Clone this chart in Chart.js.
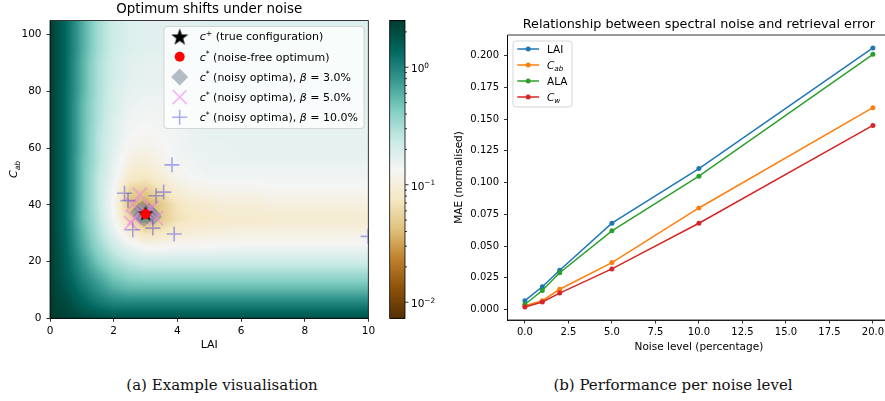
<!DOCTYPE html>
<html>
<head>
<meta charset="utf-8">
<script src="https://cdn.jsdelivr.net/npm/chart.js@4/dist/chart.umd.min.js"></script>
<style>
  body { margin: 0; background: #fff; overflow: hidden; }
  #wrap { position: relative; width: 885px; height: 401px; overflow: hidden; }
  .box { position: absolute; top: 0; height: 360px; }
  .cap { position: absolute; top: 376px; width: 300px; font-family: "DejaVu Serif"; font-size: 15px;
         color: #111; text-align: center; white-space: nowrap; line-height: 18px; }
</style>
</head>
<body>
<div id="wrap">
  <div class="box" style="left:0;width:380px"><canvas id="heat" width="380" height="360"></canvas></div>
  <div class="box" style="left:380px;width:60px"><canvas id="cbar" width="60" height="360"></canvas></div>
  <div class="box" style="left:440px;width:460px"><canvas id="lines" width="460" height="360"></canvas></div>
  <div class="cap" style="left:72px">(a) Example visualisation</div>
  <div class="cap" style="left:523px">(b) Performance per noise level</div>
</div>
<script>
// ---- panel (b): MAE per noise level ----
const noiseLevels = [0, 1, 2, 5, 10, 20];
const laiMae = [0.007, 0.018, 0.031, 0.068, 0.111, 0.206];
const cabMae = [0.003, 0.007, 0.016, 0.037, 0.080, 0.159];
const alaMae = [0.004, 0.015, 0.029, 0.062, 0.105, 0.201];
const cwMae  = [0.002, 0.006, 0.013, 0.032, 0.068, 0.145];

// ---- panel (a): optima ----
const trueLai = [3.0], trueCab = [37.0];
const optLai = [3.0], optCab = [36.8];
const noisy3Lai = [2.78, 2.9, 3.05, 3.2, 3.25, 2.95, 3.1, 2.85];
const noisy3Cab = [37.5, 38.5, 36.0, 36.8, 35.8, 35.2, 37.8, 36.0];
const noisy5Lai = [2.82, 2.6, 2.65, 2.54, 3.18, 3.33, 3.0];
const noisy5Cab = [43.6, 40.1, 35.4, 33.6, 38.8, 35.3, 37.5];
const noisy10Lai = [3.83, 2.34, 2.45, 3.33, 3.57, 2.6, 3.23, 3.9, 9.99];
const noisy10Cab = [54.1, 44.1, 41.5, 43.2, 44.5, 31.2, 31.8, 29.7, 28.9];

// misfit surface (rows: Cab from 105 down to 0, cols: LAI 0..10)
const laiGrid = [0, 0.5, 1, 1.5, 2, 2.5, 3, 3.5, 4, 4.5, 5, 5.5, 6, 6.5, 7, 7.5, 8, 8.5, 9, 9.5, 10];
const cabGrid = [105, 100, 95, 90, 85, 80, 75, 70, 65, 60, 55, 50, 45, 40, 35, 30, 25, 20, 15, 10, 5, 0];
const misfitGrid = [
  [2.5, 1.35, 0.64, 0.33, 0.22, 0.185, 0.174, 0.174, 0.174, 0.174, 0.185, 0.185, 0.185, 0.185, 0.185, 0.185, 0.185, 0.185, 0.185, 0.185, 0.185],
  [2.5, 1.35, 0.64, 0.33, 0.22, 0.185, 0.174, 0.174, 0.174, 0.174, 0.185, 0.185, 0.185, 0.185, 0.185, 0.185, 0.185, 0.185, 0.185, 0.185, 0.185],
  [2.5, 1.35, 0.64, 0.33, 0.22, 0.185, 0.174, 0.174, 0.174, 0.174, 0.185, 0.185, 0.185, 0.185, 0.185, 0.185, 0.185, 0.185, 0.185, 0.185, 0.185],
  [2.5, 1.35, 0.6, 0.31, 0.21, 0.174, 0.164, 0.164, 0.164, 0.174, 0.174, 0.174, 0.185, 0.185, 0.185, 0.185, 0.185, 0.185, 0.185, 0.185, 0.185],
  [2.5, 1.35, 0.6, 0.31, 0.21, 0.174, 0.164, 0.164, 0.164, 0.174, 0.174, 0.174, 0.185, 0.185, 0.185, 0.185, 0.185, 0.185, 0.185, 0.185, 0.185],
  [2.5, 1.3, 0.6, 0.31, 0.2, 0.164, 0.155, 0.155, 0.164, 0.164, 0.174, 0.174, 0.174, 0.174, 0.174, 0.174, 0.174, 0.174, 0.174, 0.174, 0.174],
  [2.5, 1.3, 0.56, 0.3, 0.2, 0.155, 0.146, 0.146, 0.155, 0.164, 0.164, 0.164, 0.174, 0.174, 0.174, 0.174, 0.174, 0.174, 0.174, 0.174, 0.174],
  [2.5, 1.3, 0.56, 0.3, 0.185, 0.146, 0.138, 0.146, 0.155, 0.164, 0.164, 0.164, 0.164, 0.164, 0.164, 0.164, 0.164, 0.164, 0.164, 0.164, 0.164],
  [2.5, 1.3, 0.56, 0.28, 0.185, 0.138, 0.13, 0.138, 0.146, 0.155, 0.164, 0.164, 0.164, 0.164, 0.164, 0.164, 0.164, 0.164, 0.164, 0.164, 0.164],
  [2.5, 1.3, 0.56, 0.28, 0.174, 0.125, 0.115, 0.13, 0.146, 0.155, 0.155, 0.155, 0.164, 0.164, 0.164, 0.164, 0.164, 0.164, 0.164, 0.164, 0.164],
  [2.5, 1.3, 0.53, 0.28, 0.164, 0.105, 0.097, 0.115, 0.138, 0.146, 0.155, 0.155, 0.155, 0.155, 0.155, 0.155, 0.155, 0.155, 0.155, 0.155, 0.155],
  [2.5, 1.3, 0.53, 0.26, 0.155, 0.085, 0.077, 0.097, 0.122, 0.138, 0.146, 0.146, 0.146, 0.146, 0.146, 0.146, 0.146, 0.146, 0.146, 0.146, 0.146],
  [2.5, 1.3, 0.53, 0.26, 0.138, 0.055, 0.05, 0.068, 0.097, 0.109, 0.115, 0.122, 0.122, 0.122, 0.13, 0.13, 0.13, 0.13, 0.13, 0.13, 0.13],
  [2.5, 1.3, 0.53, 0.26, 0.13, 0.042, 0.032, 0.048, 0.072, 0.086, 0.091, 0.097, 0.097, 0.097, 0.103, 0.103, 0.103, 0.103, 0.103, 0.103, 0.103],
  [2.5, 1.3, 0.53, 0.28, 0.138, 0.058, 0.036, 0.048, 0.068, 0.077, 0.081, 0.086, 0.086, 0.086, 0.091, 0.091, 0.091, 0.091, 0.091, 0.091, 0.091],
  [2.5, 1.35, 0.6, 0.31, 0.174, 0.097, 0.068, 0.077, 0.091, 0.097, 0.103, 0.103, 0.109, 0.109, 0.109, 0.109, 0.109, 0.109, 0.109, 0.109, 0.109],
  [2.5, 1.4, 0.67, 0.37, 0.23, 0.164, 0.13, 0.13, 0.138, 0.138, 0.138, 0.146, 0.146, 0.146, 0.146, 0.146, 0.146, 0.146, 0.146, 0.146, 0.146],
  [2.5, 1.5, 0.8, 0.47, 0.31, 0.25, 0.22, 0.22, 0.22, 0.22, 0.22, 0.22, 0.22, 0.22, 0.22, 0.22, 0.22, 0.22, 0.22, 0.22, 0.22],
  [2.5, 1.6, 0.96, 0.64, 0.45, 0.37, 0.35, 0.35, 0.35, 0.35, 0.35, 0.35, 0.35, 0.35, 0.35, 0.35, 0.35, 0.35, 0.35, 0.35, 0.35],
  [2.5, 1.8, 1.2, 0.85, 0.64, 0.56, 0.56, 0.56, 0.56, 0.56, 0.56, 0.56, 0.56, 0.56, 0.56, 0.56, 0.56, 0.56, 0.56, 0.56, 0.56],
  [2.5, 2.1, 1.5, 1.2, 1.0, 1.0, 1.0, 1.0, 1.0, 1.0, 1.0, 1.0, 1.0, 1.0, 1.0, 1.0, 1.0, 1.0, 1.0, 1.0, 1.0],
  [2.5, 2.3, 2.1, 1.9, 1.8, 1.8, 1.8, 1.8, 1.8, 1.8, 1.8, 1.8, 1.8, 1.8, 1.8, 1.8, 1.8, 1.8, 1.8, 1.8, 1.8]
];
const cbarMin = 0.0073, cbarMax = 2.5;
const cbarDecades = [0.01, 0.1, 1];

const FONT = '"DejaVu Sans"';
const BRBG = ['#543005', '#8c510a', '#bf812d', '#dfc27d', '#f6e8c3', '#f5f5f5',
              '#c7eae5', '#80cdc1', '#35978f', '#01665e', '#003c30']
  .map(h => [1, 3, 5].map(i => parseInt(h.substr(i, 2), 16)));

function colourFor(v) {
  let t = (Math.log10(v) - Math.log10(cbarMin)) / (Math.log10(cbarMax) - Math.log10(cbarMin));
  t = Math.max(0, Math.min(1, t));
  const s = t * 10, i = Math.min(9, Math.floor(s)), f = s - i;
  const a = BRBG[i], b = BRBG[i + 1];
  return [a[0] + (b[0] - a[0]) * f, a[1] + (b[1] - a[1]) * f, a[2] + (b[2] - a[2]) * f];
}

function bracket(grid, v) {
  // returns [i, frac] with grid[i] -> grid[i+1]
  const n = grid.length;
  for (let i = 0; i < n - 1; i++) {
    const lo = Math.min(grid[i], grid[i + 1]), hi = Math.max(grid[i], grid[i + 1]);
    if (v >= lo && v <= hi) return [i, (v - grid[i]) / (grid[i + 1] - grid[i])];
  }
  if ((grid[0] < grid[n - 1]) === (v < grid[0])) return [0, 0];
  return [n - 2, 1];
}

function sampleMisfit(lai, cab) {
  const [i, fx] = bracket(laiGrid, lai);
  const [j, fy] = bracket(cabGrid, cab);
  const g = (r, c) => Math.log10(misfitGrid[r][c]);
  const top = g(j, i) * (1 - fx) + g(j, i + 1) * fx;
  const bot = g(j + 1, i) * (1 - fx) + g(j + 1, i + 1) * fx;
  return Math.pow(10, top * (1 - fy) + bot * fy);
}

// rich text: parts [{t, it, sup, sub}], y is the vertical middle
function richWidth(ctx, parts, size) {
  let w = 0;
  for (const p of parts) {
    const s = (p.sup || p.sub) ? size * 0.7 : size;
    ctx.font = (p.it ? 'italic ' : '') + s + 'px ' + FONT;
    w += ctx.measureText(p.t).width;
  }
  return w;
}
function drawRich(ctx, parts, x, y, size, align) {
  const w = richWidth(ctx, parts, size);
  let cx = align === 'center' ? x - w / 2 : x;
  const base = y + size * 0.36;
  ctx.textAlign = 'left';
  ctx.textBaseline = 'alphabetic';
  for (const p of parts) {
    const s = (p.sup || p.sub) ? size * 0.7 : size;
    ctx.font = (p.it ? 'italic ' : '') + s + 'px ' + FONT;
    const dy = p.sup ? -size * 0.4 : p.sub ? size * 0.25 : 0;
    ctx.fillText(p.t, cx, base + dy);
    cx += ctx.measureText(p.t).width;
  }
}

function makeStar(size) {
  const c = document.createElement('canvas');
  c.width = c.height = size;
  const g = c.getContext('2d');
  g.fillStyle = '#000';
  g.beginPath();
  const cx = size / 2, cy = size / 2 + size * 0.05, R = size / 2, r = R * 0.4;
  for (let k = 0; k < 10; k++) {
    const ang = -Math.PI / 2 + k * Math.PI / 5;
    const rr = k % 2 ? r : R;
    g.lineTo(cx + rr * Math.cos(ang), cy + rr * Math.sin(ang));
  }
  g.closePath();
  g.fill();
  return c;
}
const starImg = makeStar(16);
const starImgBig = makeStar(18);

const toXY = (xs, ys) => xs.map((v, i) => ({ x: v, y: ys[i] }));

const markerStyles = {
  opt:   { pointStyle: 'circle', radius: 5, fill: 'red', stroke: 'red', width: 0 },
  star:  { pointStyle: starImg, radius: 8, fill: '#000', stroke: '#000', width: 0 },
  n10:   { pointStyle: 'cross', radius: 7.5, fill: 'rgba(0,0,0,0)', stroke: 'rgba(20,20,235,0.35)', width: 1.6 },
  n5:    { pointStyle: 'crossRot', radius: 10, fill: 'rgba(0,0,0,0)', stroke: 'rgba(238,130,238,0.6)', width: 1.6 },
  n3:    { pointStyle: 'rectRot', radius: 8.5, fill: 'rgba(112,128,144,0.52)', stroke: 'rgba(0,0,0,0)', width: 0 }
};

function scatterSet(points, m) {
  return {
    data: points, pointStyle: m.pointStyle, pointRadius: m.radius, pointHoverRadius: m.radius,
    backgroundColor: m.fill, borderColor: m.stroke, borderWidth: m.width, showLine: false
  };
}

function axisCommon(size, extra, ticks) {
  return Object.assign({
    grid: { display: true, drawOnChartArea: false, drawTicks: true, tickLength: 3.5, tickColor: '#000', tickWidth: 0.8 },
    border: { display: true, color: '#000', width: 0.8 },
    ticks: Object.assign({ font: { family: FONT, size: size }, color: '#000', padding: 5, maxRotation: 0,
                           autoSkip: false, includeBounds: false }, ticks)
  }, extra);
}

function drawFrame(ctx, a, sides) {
  ctx.save();
  ctx.strokeStyle = '#000';
  ctx.lineWidth = 0.8;
  ctx.beginPath();
  if (sides.includes('t')) { ctx.moveTo(a.left, a.top); ctx.lineTo(a.right, a.top); }
  if (sides.includes('r')) { ctx.moveTo(a.right, a.top); ctx.lineTo(a.right, a.bottom); }
  if (sides.includes('b')) { ctx.moveTo(a.left, a.bottom); ctx.lineTo(a.right, a.bottom); }
  if (sides.includes('l')) { ctx.moveTo(a.left, a.top); ctx.lineTo(a.left, a.bottom); }
  ctx.stroke();
  ctx.restore();
}

function legendBox(ctx, x, y, w, h) {
  ctx.save();
  ctx.beginPath();
  ctx.roundRect(x, y, w, h, 3);
  ctx.fillStyle = 'rgba(255,255,255,0.8)';
  ctx.fill();
  ctx.strokeStyle = 'rgba(204,204,204,0.8)';
  ctx.lineWidth = 1;
  ctx.stroke();
  ctx.restore();
}

// ---------- left: misfit map ----------
const heatPlugin = {
  id: 'heatmap',
  beforeDatasetsDraw(chart) {
    const { ctx, chartArea: a, scales: { x, y } } = chart;
    const w = Math.ceil(a.right - a.left), h = Math.ceil(a.bottom - a.top);
    const off = document.createElement('canvas');
    off.width = w; off.height = h;
    const octx = off.getContext('2d');
    const img = octx.createImageData(w, h);
    for (let py = 0; py < h; py++) {
      const cab = y.getValueForPixel(a.top + py + 0.5);
      for (let px = 0; px < w; px++) {
        const lai = x.getValueForPixel(a.left + px + 0.5);
        const c = colourFor(sampleMisfit(lai, cab));
        const k = (py * w + px) * 4;
        img.data[k] = c[0]; img.data[k + 1] = c[1]; img.data[k + 2] = c[2]; img.data[k + 3] = 255;
      }
    }
    octx.putImageData(img, 0, 0);
    ctx.save();
    ctx.beginPath();
    ctx.rect(a.left, a.top, a.right - a.left, a.bottom - a.top);
    ctx.clip();
    ctx.drawImage(off, a.left, a.top);
    ctx.restore();
  },
  afterDraw(chart) {
    const { ctx, chartArea: a } = chart;
    drawFrame(ctx, a, 'trbl');
    ctx.save();
    ctx.fillStyle = '#000';
    ctx.font = '13.4px ' + FONT;
    ctx.textAlign = 'center';
    ctx.textBaseline = 'middle';
    ctx.fillText('Optimum shifts under noise', (a.left + a.right) / 2, a.top - 11);
    ctx.font = '11px ' + FONT;
    ctx.fillText('LAI', (a.left + a.right) / 2, a.bottom + 27);
    ctx.translate(13, (a.top + a.bottom) / 2);
    ctx.rotate(-Math.PI / 2);
    drawRich(ctx, [{ t: 'C', it: true }, { t: 'ab', it: true, sub: true }], 0, 0, 11, 'center');
    ctx.restore();

    // legend
    const bx = a.left + 114, by = a.top + 6;
    legendBox(ctx, bx, by, 200, 102);
    const cstar = [{ t: 'c', it: true }, { t: '*', sup: true }];
    const rows = [
      [markerStyles.star, [{ t: 'c', it: true }, { t: '+', sup: true }, { t: ' (true configuration)' }]],
      [markerStyles.opt, cstar.concat([{ t: ' (noise-free optimum)' }])],
      [markerStyles.n3, cstar.concat([{ t: ' (noisy optima), ' }, { t: 'β', it: true }, { t: ' = 3.0%' }])],
      [markerStyles.n5, cstar.concat([{ t: ' (noisy optima), ' }, { t: 'β', it: true }, { t: ' = 5.0%' }])],
      [markerStyles.n10, cstar.concat([{ t: ' (noisy optima), ' }, { t: 'β', it: true }, { t: ' = 10.0%' }])]
    ];
    rows.forEach(([m, parts], i) => {
      const yy = by + 10 + i * 20.2;
      ctx.save();
      ctx.fillStyle = m.fill;
      ctx.strokeStyle = m.stroke;
      ctx.lineWidth = m.width;
      const style = m.pointStyle === starImg ? starImgBig : m.pointStyle;
      Chart.helpers.drawPoint(ctx, { pointStyle: style, radius: m.radius, rotation: 0, borderWidth: m.width }, bx + 15.7, yy);
      ctx.restore();
      ctx.fillStyle = '#000';
      drawRich(ctx, parts, bx + 35.7, yy, 11, 'left');
    });
  }
};

new Chart(document.getElementById('heat'), {
  type: 'scatter',
  data: {
    datasets: [
      scatterSet(toXY(optLai, optCab), markerStyles.opt),
      scatterSet(toXY(trueLai, trueCab), markerStyles.star),
      scatterSet(toXY(noisy10Lai, noisy10Cab), markerStyles.n10),
      scatterSet(toXY(noisy5Lai, noisy5Cab), markerStyles.n5),
      scatterSet(toXY(noisy3Lai, noisy3Cab), markerStyles.n3)
    ]
  },
  options: {
    responsive: false, animation: false, devicePixelRatio: 1,
    layout: { padding: { left: 0, right: 10, top: 20.5, bottom: 0 } },
    plugins: { legend: { display: false }, tooltip: { enabled: false } },
    scales: {
      x: axisCommon(10.5, { type: 'linear', min: 0, max: 10, afterFit: s => { s.height = 41.7; } },
                    { padding: 3, stepSize: 2 }),
      y: axisCommon(10.5, { type: 'linear', min: 0, max: 105, afterFit: s => { s.width = 50; } },
                    { padding: 5, stepSize: 20 })
    }
  },
  plugins: [heatPlugin]
});

// ---------- colour bar ----------
const cbarPlugin = {
  id: 'cbar',
  afterDraw(chart) {
    const { ctx, chartArea: a, scales: { y } } = chart;
    for (let py = Math.floor(a.top); py < a.bottom; py++) {
      const c = colourFor(y.getValueForPixel(py + 0.5));
      ctx.fillStyle = `rgb(${c[0]},${c[1]},${c[2]})`;
      ctx.fillRect(a.left, py, a.right - a.left, 1);
    }
    ctx.save();
    ctx.strokeStyle = '#000';
    ctx.lineWidth = 0.8;
    ctx.strokeRect(a.left, a.top, a.right - a.left, a.bottom - a.top);
    ctx.beginPath();
    for (const d of cbarDecades) {
      for (let k = 1; k < 10; k++) {
        const v = d * k;
        if (v < cbarMin || v > cbarMax) continue;
        const py = y.getPixelForValue(v);
        ctx.moveTo(a.right, py);
        ctx.lineTo(a.right + (k === 1 ? 3.5 : 2), py);
      }
    }
    ctx.stroke();
    ctx.fillStyle = '#000';
    for (const d of cbarDecades) {
      const py = y.getPixelForValue(d);
      const e = Math.round(Math.log10(d));
      drawRich(ctx, [{ t: '10' }, { t: e < 0 ? '\u2212' + (-e) : String(e), sup: true }], a.right + 6, py + 1, 10.5, 'left');
    }
    ctx.restore();
  }
};

new Chart(document.getElementById('cbar'), {
  type: 'scatter',
  data: { datasets: [] },
  options: {
    responsive: false, animation: false, devicePixelRatio: 1,
    layout: { padding: { left: 9.7, right: 35, top: 20.5, bottom: 41.7 } },
    plugins: { legend: { display: false }, tooltip: { enabled: false } },
    scales: {
      x: { display: false, min: 0, max: 1 },
      y: { type: 'logarithmic', display: false, min: cbarMin, max: cbarMax }
    }
  },
  plugins: [cbarPlugin]
});

// ---------- right: lines ----------
const seriesColours = ['#1f77b4', '#ff7f0e', '#2ca02c', '#d62728'];
const seriesLabels = [
  [{ t: 'LAI' }],
  [{ t: 'C', it: true }, { t: 'ab', it: true, sub: true }],
  [{ t: 'ALA' }],
  [{ t: 'C', it: true }, { t: 'w', it: true, sub: true }]
];
const seriesValues = [laiMae, cabMae, alaMae, cwMae];

const linePlugin = {
  id: 'linedecor',
  afterDraw(chart) {
    const { ctx, chartArea: a } = chart;
    drawFrame(ctx, a, 'tlb');
    ctx.save();
    ctx.fillStyle = '#000';
    ctx.font = '12.8px ' + FONT;
    ctx.textAlign = 'center';
    ctx.textBaseline = 'middle';
    ctx.fillText('Relationship between spectral noise and retrieval error', (a.left + a.right) / 2, a.top - 10);
    ctx.font = '10.5px ' + FONT;
    ctx.fillText('Noise level (percentage)', (a.left + a.right) / 2, a.bottom + 27);
    ctx.translate(a.left - 48.5, (a.top + a.bottom) / 2);
    ctx.rotate(-Math.PI / 2);
    ctx.fillText('MAE (normalised)', 0, 0);
    ctx.restore();

    const bx = a.left + 5.5, by = a.top + 6;
    legendBox(ctx, bx, by, 59, 66);
    seriesLabels.forEach((parts, i) => {
      const yy = by + 8 + i * 16;
      ctx.save();
      ctx.strokeStyle = seriesColours[i];
      ctx.fillStyle = seriesColours[i];
      ctx.lineWidth = 1.5;
      ctx.beginPath();
      ctx.moveTo(bx + 4.3, yy);
      ctx.lineTo(bx + 26, yy);
      ctx.stroke();
      ctx.beginPath();
      ctx.arc(bx + 15.2, yy, 2.5, 0, Math.PI * 2);
      ctx.fill();
      ctx.restore();
      ctx.fillStyle = '#000';
      drawRich(ctx, parts, bx + 34, yy, 10.5, 'left');
    });
  }
};

new Chart(document.getElementById('lines'), {
  type: 'scatter',
  data: {
    datasets: seriesValues.map((vals, i) => ({
      data: toXY(noiseLevels, vals),
      showLine: true,
      borderColor: seriesColours[i],
      backgroundColor: seriesColours[i],
      borderWidth: 1.5,
      pointRadius: 2.5,
      pointBorderWidth: 0,
      order: 4 - i
    }))
  },
  options: {
    responsive: false, animation: false, devicePixelRatio: 1,
    layout: { padding: { left: 0, right: 9.7, top: 35, bottom: 0 } },
    plugins: { legend: { display: false }, tooltip: { enabled: false } },
    scales: {
      x: axisCommon(10, { type: 'linear', min: -1, max: 21, afterFit: s => { s.height = 40; } },
                    { padding: 3, stepSize: 2.5, callback: v => v.toFixed(1) }),
      y: axisCommon(10, { type: 'linear', min: -0.0082, max: 0.2162, afterFit: s => { s.width = 67.5; } },
                    { padding: 5, stepSize: 0.025, callback: v => v.toFixed(3) })
    }
  },
  plugins: [linePlugin]
});
</script>
</body>
</html>
